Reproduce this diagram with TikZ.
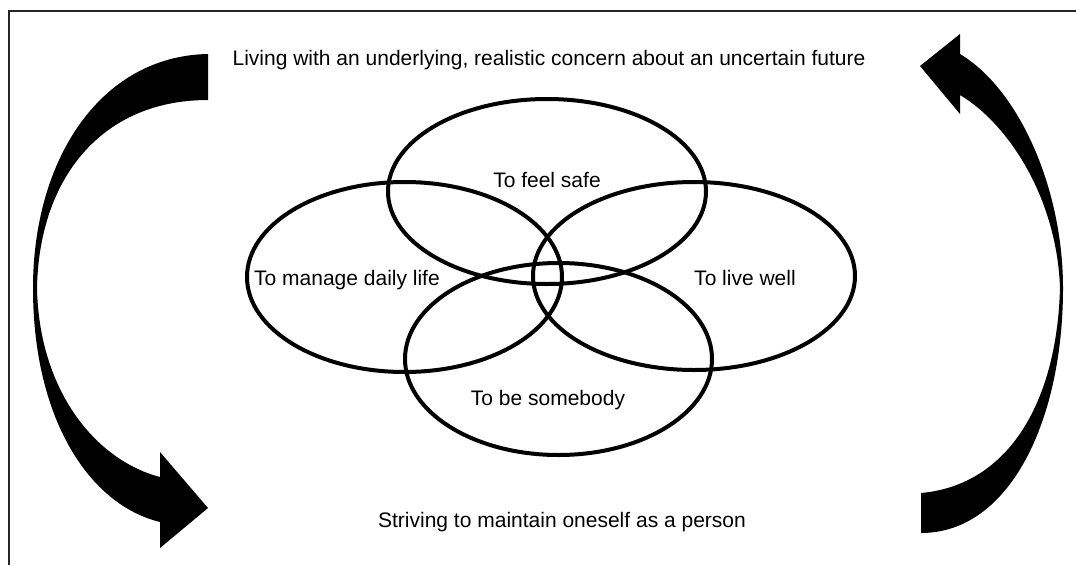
\documentclass[tikz,border=0pt]{standalone}
\usepackage{fontspec}
\setmainfont{Liberation Sans}
\usetikzlibrary{shapes.geometric}

\tikzset{
    ring/.style={draw, ellipse, line width=4pt, inner sep=0pt},
    caption/.style={anchor=base, inner sep=0pt, font=\fontsize{21}{25}\selectfont},
    bigarrow/.style={fill=black, draw=none}
}

\begin{document}
\begin{tikzpicture}[x=1pt, y=-1pt]
    \useasboundingbox (0,0) rectangle (1076,565);
    \draw[line width=1.2pt, black!85] (9,565) -- (9,11) -- (1076,11);

    \node[ring, minimum width=318pt, minimum height=185pt] (safe) at (547,191.5) {};
    \node[ring, minimum width=315pt, minimum height=190pt] (manage) at (404.5,277) {};
    \node[ring, minimum width=322pt, minimum height=188pt] (livewell) at (694,276) {};
    \node[ring, minimum width=307pt, minimum height=192pt] (somebody) at (558.5,359) {};

    \node[caption] (Lsafe) at (547,187) {To feel safe};
    \node[caption, anchor=base west] (Lmanage) at (254,285) {To manage daily life};
    \node[caption] (Llive) at (745,285) {To live well};
    \node[caption] (Lsome) at (548,405) {To be somebody};

    \node[caption] (concern) at (549,65.5) {Living with an underlying, realistic concern about an uncertain future};
    \node[caption] (striving) at (562,527) {Striving to maintain oneself as a person};

    % left arrow, down
    \fill[bigarrow] (208,54) .. controls (100,56) and (33,160) .. (33,288)
        .. controls (33,420) and (90,505) .. (160,522)
        -- (160,548) -- (208,508) -- (160,452) -- (160,477)
        .. controls (95,460) and (39,390) .. (37,288)
        .. controls (39,180) and (100,100) .. (208,100) -- cycle;

    % right arrow, up
    \fill[bigarrow] (921,533) .. controls (1010,533) and (1063,420) .. (1063,288)
        .. controls (1063,190) and (1020,90) .. (960,54)
        -- (960,34) -- (920,66) -- (960,114) -- (960,95)
        .. controls (1010,125) and (1057,200) .. (1060,288)
        .. controls (1057,400) and (1010,485) .. (921,493) -- cycle;
\end{tikzpicture}
\end{document}
